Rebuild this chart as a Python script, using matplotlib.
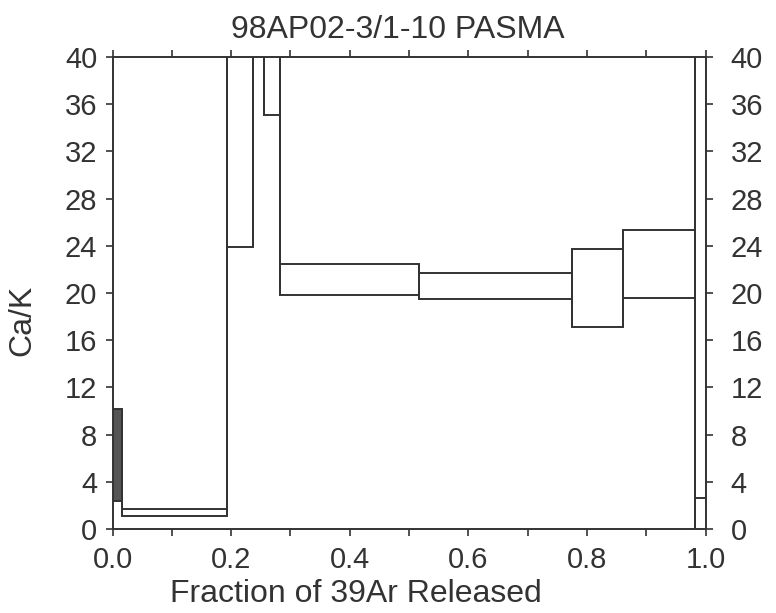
import matplotlib
matplotlib.use("Agg")
import matplotlib.pyplot as plt
import numpy as np
from matplotlib.ticker import MultipleLocator

plt.rcParams['font.family'] = ['Liberation Sans', 'DejaVu Sans']

INK = '#333333'

# step boundaries (cumulative fraction of 39Ar released)
edges = [0.0, 0.016, 0.193, 0.236, 0.255, 0.282, 0.517, 0.775, 0.860, 0.9815, 0.982, 1.0]
# Ca/K envelope per step (lower / upper bound); values above 40 run off the plot
ca_k_lo = [2.4, 1.1, 23.9, 44.0, 35.1, 19.8, 19.5, 17.1, 19.6, -10.0, 2.6]
ca_k_hi = [10.2, 1.7, 55.0, 52.0, 55.0, 22.5, 21.7, 23.7, 25.3, 60.0, 55.0]

title = "98AP02-3/1-10 PASMA"
xlabel = "Fraction of 39Ar Released"
ylabel = "Ca/K"

fig = plt.figure(figsize=(7.76, 6.13), dpi=100)
ax = fig.add_axes([0.145, 0.137, 0.7645, 0.77])

edges_a = np.array(edges)
lo = np.array(ca_k_lo)
hi = np.array(ca_k_hi)

# first step is shaded
ax.fill_between(edges_a[:2], lo[0], hi[0], color='#555555', lw=0, zorder=2)
# envelope lines plus the sides of each step box
ax.stairs(hi, edges_a, baseline=None, color=INK, lw=1.4, zorder=3)
ax.stairs(lo, edges_a, baseline=None, color=INK, lw=1.4, zorder=3)
ax.vlines(edges_a[:-1], lo, hi, color=INK, lw=1.4, zorder=3)
ax.vlines(edges_a[1:], lo, hi, color=INK, lw=1.4, zorder=3)

ax.set_xlim(0, 1)
ax.set_ylim(0, 40)

for s in ax.spines.values():
    s.set_color(INK)
    s.set_linewidth(1.4)

ax.xaxis.set_minor_locator(MultipleLocator(0.1))
ax.yaxis.set_major_locator(MultipleLocator(4))
ax.set_xticks(np.arange(0, 1.01, 0.2))
ax.set_xticklabels(["%.1f" % v for v in np.arange(0, 1.01, 0.2)])

ax.tick_params(axis='x', which='both', direction='out', length=5, width=1.2,
               top=True, color=INK, labelsize=21, labelcolor=INK, pad=7)
ax.tick_params(axis='y', which='major', direction='out', length=5, width=1.2,
               color=INK, labelsize=21, labelcolor=INK, pad=6)

# right-hand Ca/K scale
ax2 = ax.twinx()
ax2.set_ylim(ax.get_ylim())
ax2.yaxis.set_major_locator(MultipleLocator(4))
ax2.tick_params(axis='y', direction='out', length=5, width=1.2, color=INK,
                labelsize=21, labelcolor=INK, pad=13)
for s in ax2.spines.values():
    s.set_visible(False)

ax.set_title(title, fontsize=23, color=INK, x=0.481, y=1.022)
ax.set_xlabel(xlabel, fontsize=23, color=INK)
ax.xaxis.set_label_coords(0.41, -0.105)
ax.set_ylabel(ylabel, fontsize=23, color=INK)
ax.yaxis.set_label_coords(-0.127, 0.443)

fig.savefig("out.png", dpi=100, facecolor='white')
